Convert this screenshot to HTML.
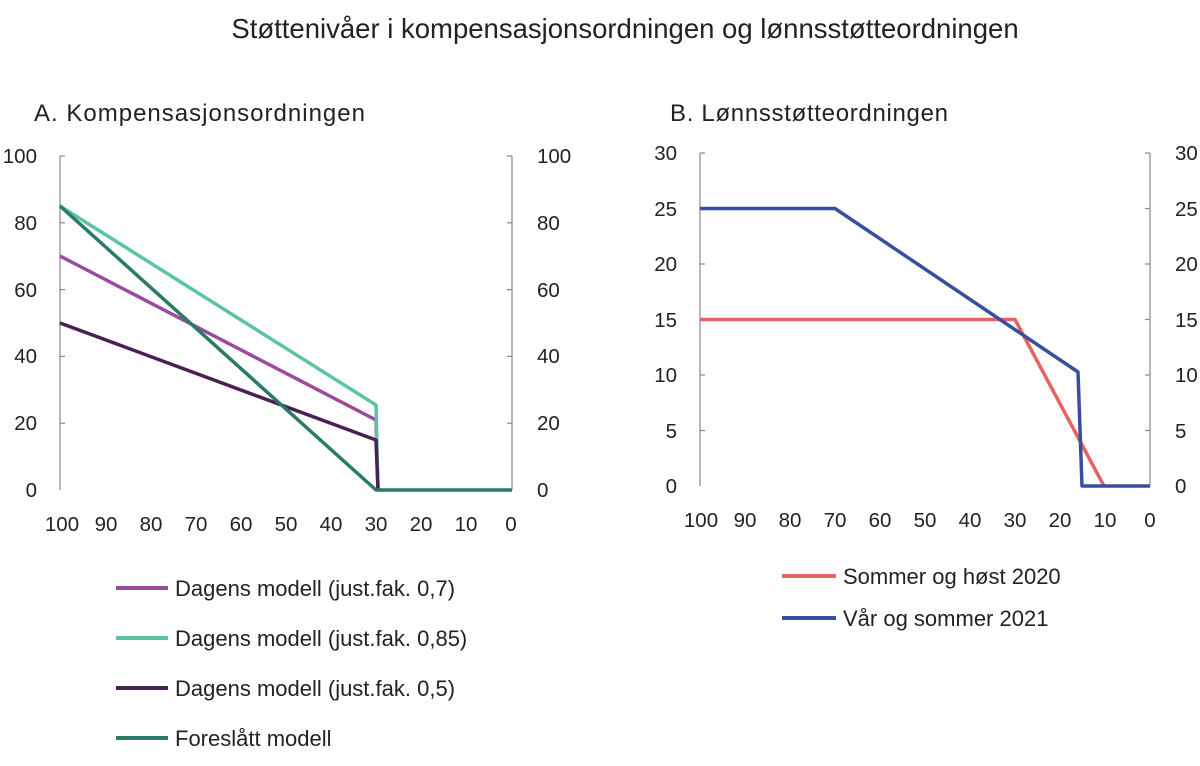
<!DOCTYPE html>
<html><head><meta charset="utf-8"><style>
html,body{margin:0;padding:0;background:#fff;}
svg{display:block;font-family:"Liberation Sans",sans-serif;}
</style></head><body>
<svg width="1200" height="766" viewBox="0 0 1200 766" xmlns="http://www.w3.org/2000/svg">
<text x="625" y="38" font-size="27.5" text-anchor="middle" fill="#222">Støttenivåer i kompensasjonsordningen og lønnsstøtteordningen</text>
<text x="34" y="121" font-size="24" fill="#222" textLength="331">A.  Kompensasjonsordningen</text>
<text x="670" y="121" font-size="24" fill="#222" textLength="278">B. Lønnsstøtteordningen</text>

<!-- Panel A axes -->
<g stroke="#888" stroke-width="1.2" fill="none">
<line x1="60" y1="156" x2="60" y2="490"/>
<line x1="512" y1="156" x2="512" y2="490"/>
<line x1="60" y1="156" x2="65" y2="156"/><line x1="60" y1="222.8" x2="65" y2="222.8"/><line x1="60" y1="289.6" x2="65" y2="289.6"/><line x1="60" y1="356.4" x2="65" y2="356.4"/><line x1="60" y1="423.2" x2="65" y2="423.2"/>
<line x1="507" y1="156" x2="512" y2="156"/><line x1="507" y1="222.8" x2="512" y2="222.8"/><line x1="507" y1="289.6" x2="512" y2="289.6"/><line x1="507" y1="356.4" x2="512" y2="356.4"/><line x1="507" y1="423.2" x2="512" y2="423.2"/>
</g>
<g font-size="20.5" fill="#222" text-anchor="end">
<text x="37" y="163">100</text><text x="37" y="230">80</text><text x="37" y="297">60</text><text x="37" y="363">40</text><text x="37" y="430">20</text><text x="37" y="497">0</text>
</g>
<g font-size="20.5" fill="#222">
<text x="537" y="163">100</text><text x="537" y="230">80</text><text x="537" y="297">60</text><text x="537" y="363">40</text><text x="537" y="430">20</text><text x="537" y="497">0</text>
</g>
<g font-size="20.5" fill="#222" text-anchor="middle">
<text x="62" y="531">100</text><text x="106" y="531">90</text><text x="151" y="531">80</text><text x="196" y="531">70</text><text x="241" y="531">60</text><text x="286" y="531">50</text><text x="331" y="531">40</text><text x="376" y="531">30</text><text x="421" y="531">20</text><text x="466" y="531">10</text><text x="511" y="531">0</text>
</g>
<g fill="none" stroke-width="3.5" stroke-linejoin="round">
<polyline stroke="#9b4a9e" points="60,256 376,420 378,490"/>
<polyline stroke="#5bc4a5" points="60,206 376,405 378,490"/>
<polyline stroke="#4a1f52" points="60,323 376,440 378,490"/>
<polyline stroke="#2b7a68" points="60,206 376,490 512,490"/>
</g>

<!-- Panel B axes -->
<g stroke="#888" stroke-width="1.2" fill="none">
<line x1="700" y1="153" x2="700" y2="486"/>
<line x1="1150" y1="153" x2="1150" y2="486"/>
<line x1="700" y1="153" x2="705" y2="153"/><line x1="700" y1="208.5" x2="705" y2="208.5"/><line x1="700" y1="264" x2="705" y2="264"/><line x1="700" y1="319.5" x2="705" y2="319.5"/><line x1="700" y1="375" x2="705" y2="375"/><line x1="700" y1="430.5" x2="705" y2="430.5"/>
<line x1="1145" y1="153" x2="1150" y2="153"/><line x1="1145" y1="208.5" x2="1150" y2="208.5"/><line x1="1145" y1="264" x2="1150" y2="264"/><line x1="1145" y1="319.5" x2="1150" y2="319.5"/><line x1="1145" y1="375" x2="1150" y2="375"/><line x1="1145" y1="430.5" x2="1150" y2="430.5"/>
</g>
<g font-size="20.5" fill="#222" text-anchor="end">
<text x="677" y="160">30</text><text x="677" y="216">25</text><text x="677" y="271">20</text><text x="677" y="327">15</text><text x="677" y="382">10</text><text x="677" y="438">5</text><text x="677" y="493">0</text>
</g>
<g font-size="20.5" fill="#222">
<text x="1175" y="160">30</text><text x="1175" y="216">25</text><text x="1175" y="271">20</text><text x="1175" y="327">15</text><text x="1175" y="382">10</text><text x="1175" y="438">5</text><text x="1175" y="493">0</text>
</g>
<g font-size="20.5" fill="#222" text-anchor="middle">
<text x="701" y="527">100</text><text x="745" y="527">90</text><text x="790" y="527">80</text><text x="835" y="527">70</text><text x="880" y="527">60</text><text x="925" y="527">50</text><text x="970" y="527">40</text><text x="1015" y="527">30</text><text x="1060" y="527">20</text><text x="1105" y="527">10</text><text x="1150" y="527">0</text>
</g>
<g fill="none" stroke-width="3.5" stroke-linejoin="round">
<polyline stroke="#e8625e" points="700,319.5 1015,319.5 1104,486"/>
<polyline stroke="#3a4ea0" points="700,208.5 835,208.5 1078,372 1082,486 1150,486"/>
</g>

<!-- Legends -->
<g stroke-width="4">
<line x1="116" y1="588" x2="168" y2="588" stroke="#9b4a9e"/>
<line x1="116" y1="638" x2="168" y2="638" stroke="#5bc4a5"/>
<line x1="116" y1="688" x2="168" y2="688" stroke="#4a1f52"/>
<line x1="116" y1="738" x2="168" y2="738" stroke="#2b7a68"/>
<line x1="782" y1="576" x2="836" y2="576" stroke="#e8625e"/>
<line x1="782" y1="618" x2="836" y2="618" stroke="#3a4ea0"/>
</g>
<g font-size="22" fill="#222">
<text x="175" y="596">Dagens modell (just.fak. 0,7)</text>
<text x="175" y="646">Dagens modell (just.fak. 0,85)</text>
<text x="175" y="696">Dagens modell (just.fak. 0,5)</text>
<text x="175" y="746">Foreslått modell</text>
<text x="843" y="584">Sommer og høst 2020</text>
<text x="843" y="626">Vår og sommer 2021</text>
</g>
</svg>
</body></html>
